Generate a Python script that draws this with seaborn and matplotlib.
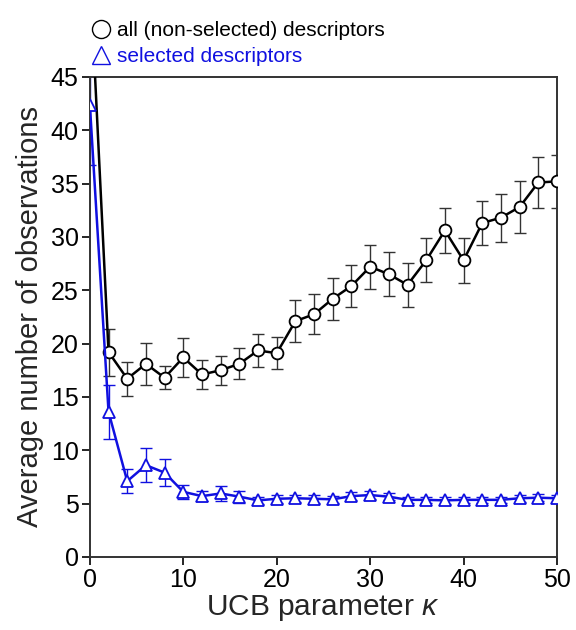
import matplotlib
matplotlib.use("Agg")
import matplotlib.pyplot as plt
import seaborn as sns
import pandas as pd
from matplotlib.lines import Line2D

# values
kappa = [0, 2, 4, 6, 8, 10, 12, 14, 16, 18, 20, 22, 24, 26, 28, 30, 32, 34, 36, 38, 40, 42, 44, 46, 48, 50]
all_mean = [55.0, 19.2, 16.7, 18.1, 16.8, 18.7, 17.1, 17.5, 18.1, 19.35, 19.1, 22.1, 22.75, 24.2, 25.4,
            27.2, 26.5, 25.5, 27.8, 30.6, 27.8, 31.3, 31.8, 32.8, 35.1, 35.2]
all_err = [5.0, 2.2, 1.6, 1.95, 1.1, 1.8, 1.35, 1.35, 1.45, 1.55, 1.5, 1.95, 1.85, 1.95, 2.0,
           2.05, 2.05, 2.05, 2.05, 2.1, 2.1, 2.1, 2.25, 2.4, 2.4, 2.45]
sel_mean = [42.4, 13.6, 7.1, 8.6, 7.9, 6.1, 5.7, 5.95, 5.65, 5.3, 5.45, 5.5, 5.45, 5.4, 5.7,
            5.8, 5.65, 5.35, 5.35, 5.3, 5.35, 5.35, 5.35, 5.5, 5.55, 5.5]
sel_err = [5.7, 2.5, 1.1, 1.6, 1.25, 0.65, 0.45, 0.7, 0.55, 0.35, 0.35, 0.35, 0.35, 0.35, 0.35,
           0.35, 0.35, 0.3, 0.3, 0.3, 0.3, 0.3, 0.3, 0.35, 0.35, 0.35]

df = pd.DataFrame({"kappa": kappa, "all": all_mean, "all_err": all_err,
                   "sel": sel_mean, "sel_err": sel_err})

sns.set_style("ticks")
plt.rcParams["font.family"] = ["Liberation Sans", "DejaVu Sans"]
plt.rcParams["mathtext.fontset"] = "custom"
plt.rcParams["mathtext.it"] = "Liberation Sans:italic"
plt.rcParams["mathtext.rm"] = "Liberation Sans"

fig = plt.figure(figsize=(5.76, 6.3), dpi=100)
ax = fig.add_axes([0.156, 0.116, 0.811, 0.762])

blue = "#1010e0"

# error bars first, then the lines and markers on top
ax.errorbar(df["kappa"], df["all"], yerr=df["all_err"], fmt="none", ecolor="#333333",
            elinewidth=1.0, capsize=4.5, capthick=1.0, zorder=1)
ax.errorbar(df["kappa"], df["sel"], yerr=df["sel_err"], fmt="none", ecolor=blue,
            elinewidth=1.0, capsize=4.5, capthick=1.0, zorder=1)

sns.lineplot(data=df, x="kappa", y="all", ax=ax, color="black", lw=1.8, marker="o",
             markersize=8.5, markerfacecolor="white", markeredgecolor="black",
             markeredgewidth=1.3, zorder=3)
sns.lineplot(data=df, x="kappa", y="sel", ax=ax, color=blue, lw=1.8, marker="^",
             markersize=9, markerfacecolor="white", markeredgecolor=blue,
             markeredgewidth=1.3, zorder=3)

ax.set_xlim(0, 50)
ax.set_ylim(0, 45)
ax.set_xticks(range(0, 51, 10))
ax.set_yticks(range(0, 46, 5))
ax.set_xlabel(r"UCB parameter $\kappa$", fontsize=21.5, labelpad=1)
ax.set_ylabel("Average number of observations", fontsize=21, labelpad=5)
ax.tick_params(direction="out", length=6, width=1.2, labelsize=18, colors="black", pad=2)
for s in ax.spines.values():
    s.set_visible(True)
    s.set_linewidth(1.4)
    s.set_color("#333333")

handles = [
    Line2D([], [], ls="none", marker="o", markersize=13, markerfacecolor="white",
           markeredgecolor="black", markeredgewidth=1.0),
    Line2D([], [], ls="none", marker="^", markersize=13, markerfacecolor="white",
           markeredgecolor=blue, markeredgewidth=1.0),
]
fig.legend(handles, ["all (non-selected) descriptors", "selected descriptors"],
           loc="upper left", bbox_to_anchor=(0.135, 0.99), frameon=False, fontsize=15,
           handlelength=0.8, handletextpad=0.4, labelspacing=0.35,
           labelcolor=["black", blue], borderaxespad=0.3)

fig.savefig("out.png", dpi=100)
